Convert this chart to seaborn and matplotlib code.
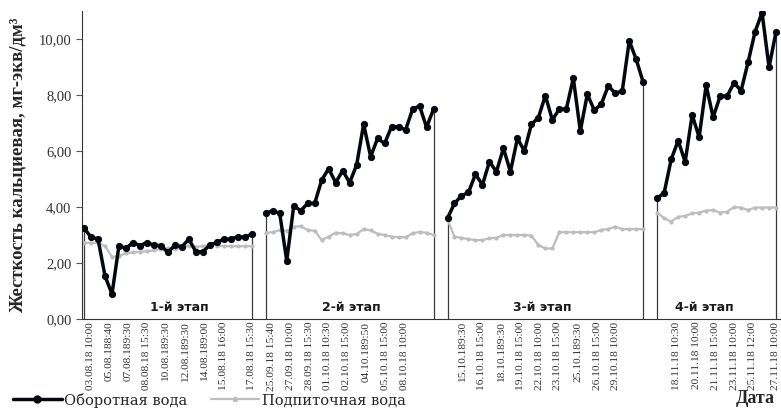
import matplotlib
matplotlib.use("Agg")
import matplotlib.pyplot as plt
from matplotlib.lines import Line2D
import seaborn as sns
import pandas as pd

# ---- data ----
stage_names = ["1-й этап", "2-й этап", "3-й этап", "4-й этап"]

circ_1 = [3.25, 2.92, 2.86, 1.54, 0.89, 2.62, 2.52, 2.73, 2.62, 2.73, 2.64, 2.62, 2.38,
          2.64, 2.58, 2.85, 2.40, 2.40, 2.64, 2.74, 2.85, 2.85, 2.94, 2.92, 3.03]
circ_2 = [3.77, 3.87, 3.77, 2.08, 4.04, 3.87, 4.13, 4.13, 4.96, 5.37, 4.87, 5.30, 4.87,
          5.50, 6.96, 5.80, 6.45, 6.27, 6.87, 6.87, 6.75, 7.49, 7.61, 6.85, 7.49]
circ_3 = [3.60, 4.13, 4.40, 4.52, 5.17, 4.79, 5.62, 5.26, 6.10, 5.26, 6.45, 6.00, 6.95,
          7.19, 7.98, 7.11, 7.50, 7.50, 8.60, 6.71, 8.03, 7.46, 7.67, 8.33, 8.06, 8.14,
          9.93, 9.27, 8.45]
circ_4 = [4.31, 4.51, 5.70, 6.37, 5.61, 7.29, 6.49, 8.35, 7.20, 7.96, 7.96, 8.44, 8.15,
          9.17, 10.26, 10.94, 8.99, 10.26]

feed_1 = [2.72, 2.72, 2.72, 2.60, 2.22, 2.25, 2.35, 2.38, 2.40, 2.42, 2.45, 2.50, 2.52,
          2.50, 2.55, 2.62, 2.58, 2.60, 2.65, 2.62, 2.60, 2.60, 2.60, 2.60, 2.60]
feed_2 = [3.08, 3.10, 3.18, 3.15, 3.30, 3.31, 3.18, 3.15, 2.82, 2.94, 3.08, 3.06, 3.00,
          3.04, 3.20, 3.17, 3.04, 3.00, 2.94, 2.92, 2.92, 3.06, 3.11, 3.08, 3.00]
feed_3 = [3.55, 2.94, 2.90, 2.85, 2.82, 2.82, 2.88, 2.90, 3.00, 3.00, 3.00, 3.00, 2.98,
          2.64, 2.52, 2.52, 3.10, 3.10, 3.10, 3.10, 3.10, 3.10, 3.18, 3.21, 3.30, 3.21,
          3.21, 3.21, 3.21]
feed_4 = [3.80, 3.60, 3.48, 3.65, 3.68, 3.77, 3.80, 3.87, 3.89, 3.80, 3.83, 4.00, 3.98,
          3.89, 3.98, 3.98, 3.98, 3.98]

labels_1 = ["03.08.18 10:00", "05.08.188:40", "07.08.189:30", "08.08.18 15:30",
            "10.08.189:30", "12.08.189:30", "14.08.189:00", "15.08.18 16:00", "17.08.18 15:30"]
labels_2 = ["25.09.18 15:40", "27.09.18 10:00", "28.09.18 15:30", "01.10.18 10:30",
            "02.10.18 15:00", "04.10.189:50", "05.10.18 15:00", "08.10.18 10:00"]
labels_3 = ["15.10.189:30", "16.10.18 15:00", "18.10.189:30", "19.10.18 15:00",
            "22.10.18 10:00", "23.10.18 15:00", "25.10.189:30", "26.10.18 15:00",
            "29.10.18 10:00"]
labels_4 = ["18.11.18 10:30", "20.11.18 10:00", "21.11.18 15:00", "23.11.18 10:00",
            "25.11.18 12:00", "27.11.18 10:00"]

circ_name = "Оборотная вода"
feed_name = "Подпиточная вода"

# label offsets (in measurement steps) inside each stage
label_steps = [
    [0.9, 3.6, 6.3, 9.0, 11.7, 14.5, 17.2, 19.9, 24.0],
    [0.8, 3.5, 6.2, 8.9, 11.6, 14.3, 17.1, 19.8],
    [2.2, 4.9, 7.7, 10.4, 13.1, 15.8, 18.7, 21.4, 24.1],
    [2.8, 5.6, 8.3, 11.0, 13.7, 16.9],
]
# where the stage captions sit inside each stage
caption_steps = [13.7, 12.3, 13.5, 6.8]

circ_all = [circ_1, circ_2, circ_3, circ_4]
feed_all = [feed_1, feed_2, feed_3, feed_4]
labels_all = [labels_1, labels_2, labels_3, labels_4]

rows = []
starts = []
pos = 0
for k, name in enumerate(stage_names):
    starts.append(pos)
    for i, (c, f) in enumerate(zip(circ_all[k], feed_all[k])):
        rows.append({"x": pos + i, "value": c, "series": circ_name, "stage": name})
        rows.append({"x": pos + i, "value": f, "series": feed_name, "stage": name})
    pos += len(circ_all[k]) + 1  # one empty slot between stages
df = pd.DataFrame(rows)

# ---- plot ----
sns.set_style("white")
plt.rcParams["font.family"] = ["Liberation Serif", "DejaVu Serif"]

fig = plt.figure(figsize=(7.81, 4.09), dpi=100)
ax = fig.add_axes([82 / 781, 90 / 409, 699 / 781, 308 / 409])

# stage boundary drop lines
for k in range(4):
    s = starts[k]
    e = s + len(circ_all[k]) - 1
    ax.vlines([s, e], 0, [circ_all[k][0], circ_all[k][-1]], color="#3a3a3a", lw=0.9, zorder=1)

sns.lineplot(data=df[df.series == feed_name], x="x", y="value", units="stage", estimator=None,
             color="#bdbdbd", lw=1.6, marker="o", markersize=3, markeredgewidth=0,
             ax=ax, zorder=2, legend=False)
sns.lineplot(data=df[df.series == circ_name], x="x", y="value", units="stage", estimator=None,
             color="#05070f", lw=2.5, marker="o", markersize=5.2, markeredgewidth=0,
             ax=ax, zorder=3, legend=False)

ax.set_xlim(-0.29, 99.71)
ax.set_ylim(0, 11)
ax.set_yticks([0, 2, 4, 6, 8, 10])
ax.set_yticklabels([f"{v:.2f}".replace(".", ",") for v in [0, 2, 4, 6, 8, 10]])

tick_pos, tick_lab = [], []
for k in range(4):
    tick_pos += [starts[k] + t for t in label_steps[k]]
    tick_lab += labels_all[k]
ax.set_xticks(tick_pos)
ax.set_xticklabels(tick_lab, rotation=90, fontsize=8.2, color="#333333")
ax.tick_params(axis="x", length=0, pad=2)
ax.tick_params(axis="y", length=4, width=0.8, color="#555555", labelsize=10.5,
               labelcolor="#333333", direction="out", left=True)

for k, name in enumerate(stage_names):
    ax.text(starts[k] + caption_steps[k], 0.42, name, ha="center", va="center", fontsize=9,
            fontweight="bold", family="DejaVu Sans", color="#1a1a1a")

ax.set_xlabel("")
ax.set_ylabel("Жесткость кальциевая, мг-экв/дм³", fontsize=13.5, fontweight="bold", labelpad=9)
for side in ["top", "right"]:
    ax.spines[side].set_visible(False)
ax.spines["left"].set_color("#333333")
ax.spines["bottom"].set_color("#333333")

handles = [Line2D([], [], color="#05070f", lw=2.5, marker="o", markersize=5),
           Line2D([], [], color="#bdbdbd", lw=1.6, marker="o", markersize=3)]
fig.legend(handles, [circ_name, feed_name], loc="center left", bbox_to_anchor=(0.006, 9 / 409),
           ncol=2, frameon=False, prop={"family": "DejaVu Serif", "size": 10.5},
           handlelength=3.3, handletextpad=0.2, columnspacing=1.6, borderpad=0.1)
fig.text(0.992, 0.005, "Дата", ha="right", va="bottom", fontsize=13, fontweight="bold")

fig.savefig("out.png", dpi=100)
